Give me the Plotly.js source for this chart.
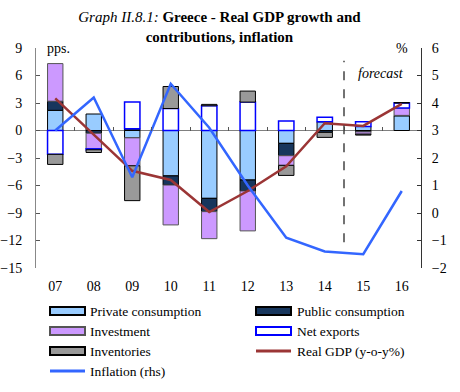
<!DOCTYPE html>
<html>
<head>
<meta charset="utf-8">
<script src="https://cdn.plot.ly/plotly-3.0.1.min.js"></script>
<style>
  html, body { margin: 0; padding: 0; background: #fff; }
  #chart { width: 460px; height: 392px; }
</style>
</head>
<body>
<div id="chart"></div>
<script>
// ---- data ----
const years = ['07', '08', '09', '10', '11', '12', '13', '14', '15', '16'];
const privateConsumption = [2.2, 1.8, -0.8, -4.95, -7.4, -5.4, -1.4, 0.95, 0.45, 1.6];
const publicConsumption  = [1.0, -0.3, 0.2, -1.0, -1.45, -1.2, -1.35, -0.2, -0.15, 0.05];
const investment         = [4.1, -1.7, -3.05, -4.35, -2.95, -4.35, -1.05, 0, -0.25, 0.8];
const netExports         = [-2.6, -0.1, 2.9, 2.4, 2.7, 3.1, 1.05, 0.5, 0.5, 0.55];
const inventories        = [-1.1, -0.3, -3.8, 2.4, 0.15, 1.2, -1.1, -0.55, -0.1, 0.05];
const realGDP            = [3.5, -0.4, -4.4, -5.4, -8.9, -6.6, -3.9, 0.8, 0.5, 2.9];
const inflation          = [3.0, 4.2, 1.3, 4.7, 3.1, 1.0, -0.9, -1.4, -1.5, 0.8];

const seriesNames = ['Private consumption', 'Public consumption', 'Investment', 'Net exports', 'Inventories'];
const seriesValues = [privateConsumption, publicConsumption, investment, netExports, inventories];
const lineNames = ['Real GDP (y-o-y%)', 'Inflation (rhs)'];

// ---- styles ----
const fills = ['#99ccff', '#17365d', '#cc99ff', '#ffffff', '#999999'];
const borders = ['#000000', '#000000', '#555555', '#0000ff', '#000000'];
const borderW = [1, 1, 1, 1.5, 1];
const lineColors = ['#9b3535', '#3366ff'];
const FONT = 'Liberation Serif, Times New Roman, serif';

// plot area in pixels (for placing the legend / labels)
const PL = 36, PR = 421, PT = 48, PB = 268;
const px = p => (p - PL) / (PR - PL);
const py = p => (PB - p) / (PB - PT);

const traces = seriesValues.map((vals, i) => ({
  type: 'bar',
  x: years,
  y: vals,
  name: seriesNames[i],
  width: 0.4,
  marker: { color: fills[i], line: { color: borders[i], width: borderW[i] } },
  hoverinfo: 'x+y+name'
}));
traces.push({
  type: 'scatter', mode: 'lines', x: years, y: realGDP,
  name: lineNames[0], line: { color: lineColors[0], width: 2.5 }
});
traces.push({
  type: 'scatter', mode: 'lines', x: years, y: inflation, yaxis: 'y2',
  name: lineNames[1], line: { color: lineColors[1], width: 2.5 }
});
// helper trace for the category-boundary ticks on the zero line
traces.push({
  type: 'scatter', mode: 'none', x: years, y: years.map(() => 0), xaxis: 'x2',
  showlegend: false, hoverinfo: 'skip'
});

// ---- legend (two columns, wide boxed swatches) ----
const legendNames = seriesNames.concat(lineNames);
const colSwatch = [50, 256], colText = [89, 296];
const rowY = [311, 331, 351, 371];
const legendShapes = [];
const legendAnns = [];
legendNames.forEach((n, i) => {
  const c = i % 2, r = Math.floor(i / 2);
  const yc = rowY[r];
  if (i < seriesNames.length) {
    legendShapes.push({
      type: 'rect', xref: 'paper', yref: 'paper',
      x0: px(colSwatch[c]), x1: px(colSwatch[c] + 35), y0: py(yc - 4), y1: py(yc + 4),
      fillcolor: fills[i], line: { color: i === 3 ? '#0000ff' : (i === 2 ? '#555' : '#000'), width: 2 }
    });
  } else {
    legendShapes.push({
      type: 'line', xref: 'paper', yref: 'paper',
      x0: px(colSwatch[c]), x1: px(colSwatch[c] + 35), y0: py(yc), y1: py(yc),
      line: { color: lineColors[i - seriesNames.length], width: 3 }
    });
  }
  legendAnns.push({
    text: n, xref: 'paper', yref: 'paper', x: px(colText[c]), y: py(yc),
    xanchor: 'left', yanchor: 'middle', showarrow: false, borderpad: 0,
    font: { family: FONT, size: 13.5, color: '#000' }
  });
});

const layout = {
  width: 460, height: 392,
  margin: { l: 36, r: 39, t: 48, b: 124 },
  paper_bgcolor: '#fff', plot_bgcolor: '#fff',
  font: { family: FONT, size: 14, color: '#000' },
  barmode: 'relative',
  showlegend: false,
  title: {
    text: '<i>Graph II.8.1:</i> <b>Greece - Real GDP growth and</b><br><b>contributions, inflation</b>',
    font: { family: FONT, size: 15, color: '#000' },
    xref: 'container', x: 0.477, xanchor: 'center',
    yref: 'container', y: 1 - 22 / 392, yanchor: 'middle'
  },
  xaxis: {
    type: 'category', showline: false, ticks: '', showgrid: false, zeroline: false,
    ticklabelstandoff: 8, tickfont: { family: FONT, size: 14 }
  },
  xaxis2: {
    type: 'category', overlaying: 'x', matches: 'x', anchor: 'free', position: 0.625,
    side: 'bottom', showline: false, showgrid: false, zeroline: false,
    ticks: 'inside', tickson: 'boundaries', ticklen: 4, tickcolor: '#555',
    showticklabels: false
  },
  yaxis: {
    range: [-15, 9], dtick: 3, tick0: 0, showgrid: false,
    zeroline: true, zerolinecolor: '#808080', zerolinewidth: 1.5,
    showline: true, linecolor: '#888', linewidth: 1,
    ticks: 'inside', ticklen: 4, tickcolor: '#555',
    ticklabelstandoff: 10, tickfont: { family: FONT, size: 14 }
  },
  yaxis2: {
    range: [-2, 6], dtick: 1, tick0: 0, overlaying: 'y', side: 'right',
    showgrid: false, zeroline: false,
    showline: true, linecolor: '#333', linewidth: 1,
    ticks: 'inside', ticklen: 4, tickcolor: '#333',
    ticklabelstandoff: 7, tickfont: { family: FONT, size: 14 }
  },
  shapes: [
    {
      type: 'line', xref: 'x', yref: 'y', x0: 7.5, x1: 7.5, y0: -12.2, y1: 7.6,
      line: { color: '#444', width: 1.5, dash: 'dash' }
    }
  ].concat(legendShapes),
  annotations: [
    { text: 'pps.', xref: 'paper', yref: 'paper', x: px(45), y: 1, xanchor: 'left', yanchor: 'middle', showarrow: false, font: { family: FONT, size: 14 } },
    { text: '%', xref: 'paper', yref: 'paper', x: px(410), y: 1, xanchor: 'right', yanchor: 'middle', showarrow: false, font: { family: FONT, size: 14 } },
    { text: '<i>forecast</i>', xref: 'paper', yref: 'paper', x: px(380.5), y: py(73), xanchor: 'center', yanchor: 'middle', showarrow: false, font: { family: FONT, size: 14 } }
  ].concat(legendAnns)
};

Plotly.newPlot('chart', traces, layout, { displayModeBar: false, staticPlot: true });
</script>
</body>
</html>
